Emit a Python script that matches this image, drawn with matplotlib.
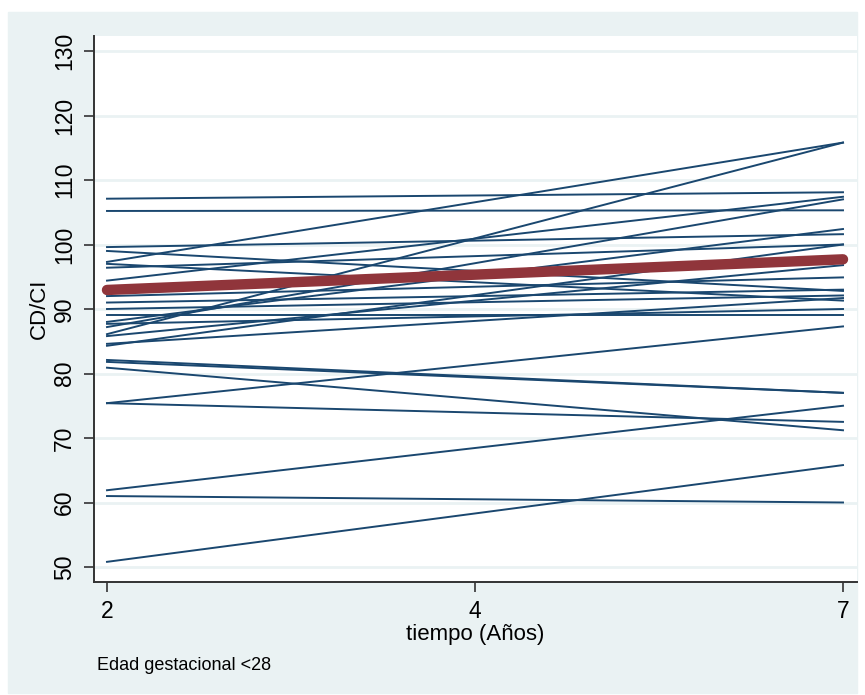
import numpy as np
import matplotlib
matplotlib.use("Agg")
import matplotlib.pyplot as plt
from matplotlib.patches import Rectangle

plt.rcParams['font.family'] = ['Liberation Sans', 'DejaVu Sans']

# visitas (anos) - posiciones equiespaciadas en el eje
tiempo = ["2", "4", "7"]

# CD/CI de cada nino a los 2 y a los 7 anos
cdci_2 = [107.1, 105.2, 99.6, 99.0, 97.3, 97.0, 96.4, 94.4, 92.0, 91.0,
          90.0, 89.0, 88.0, 87.7, 87.2, 86.1, 85.8, 84.6, 84.3, 82.1,
          81.8, 80.9, 75.4, 75.4, 61.9, 61.0, 50.8]
cdci_7 = [108.1, 105.3, 101.6, 92.8, 115.8, 91.3, 100.0, 107.4, 94.9, 93.0,
          92.1, 89.0, 102.4, 90.0, 107.0, 115.8, 96.8, 91.7, 100.0, 77.0,
          77.0, 71.2, 87.3, 72.5, 75.0, 60.0, 65.8]

# recta media ajustada
media_2 = 92.95
media_7 = 97.7

bg = '#eaf2f3'
navy = '#1a476f'
maroon = '#90353b'

fig = plt.figure(figsize=(8.65, 6.95), dpi=100)
fig.patches.append(Rectangle((8/865, 2/695), 849/865, 681/695,
                             transform=fig.transFigure, color=bg, zorder=-10))

ax = fig.add_axes([94/865, 1 - 582/695, 763/865, 546/695])
ax.set_facecolor('white')

pos = np.arange(len(tiempo))
for a, b in zip(cdci_2, cdci_7):
    ax.plot([pos[0], pos[-1]], [a, b], color=navy, lw=1.4, zorder=3)
ax.plot([pos[0], pos[-1]], [media_2, media_7], color=maroon, lw=7.5,
        solid_capstyle='round', zorder=4)

ax.set_xlim(-13/368, 2 + 14/368)
ax.set_ylim(50 - 15/6.45, 130 + 15/6.45)
ax.set_yticks(np.arange(50, 131, 10))
ax.set_xticks(pos)
ax.set_xticklabels(tiempo)
for t in ax.get_yticklabels():
    t.set_rotation(90)
    t.set_va('center')
ax.tick_params(axis='both', labelsize=16.5, length=7, width=1.2, color='#333333', pad=6)
ax.grid(axis='y', color=bg, lw=2)
ax.set_axisbelow(True)
for s in ['top', 'right']:
    ax.spines[s].set_visible(False)
for s in ['left', 'bottom']:
    ax.spines[s].set_color('#333333')
    ax.spines[s].set_linewidth(1.4)

ax.set_xlabel('tiempo (Años)', fontsize=16, labelpad=1)
ax.set_ylabel('CD/CI', fontsize=16, labelpad=2)
fig.text(97/865, 1 - 670/695, 'Edad gestacional <28', fontsize=13)

fig.savefig('out.png', dpi=100, facecolor='white')
